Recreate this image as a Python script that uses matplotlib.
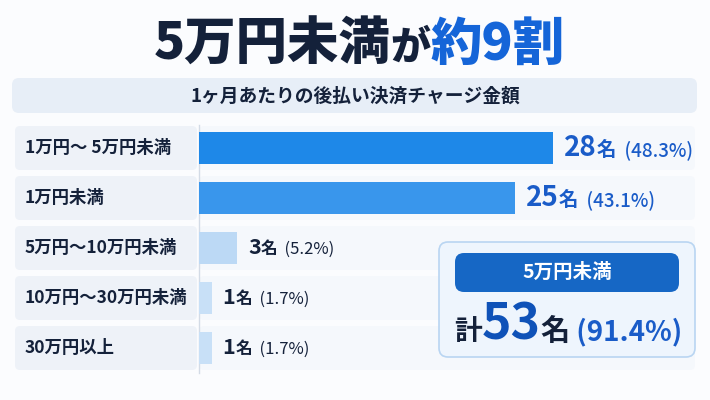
import matplotlib
matplotlib.use("Agg")
import matplotlib.pyplot as plt
from matplotlib.patches import FancyBboxPatch

plt.rcParams['font.family'] = ['Noto Sans CJK JP', 'DejaVu Sans']

# data
categories = ["1万円〜 5万円未満", "1万円未満", "5万円〜10万円未満", "10万円〜30万円未満", "30万円以上"]
counts = [28, 25, 3, 1, 1]
percents = [48.3, 43.1, 5.2, 1.7, 1.7]
bar_colors = ["#1e88e8", "#3996ec", "#bcd9f5", "#c8e0f7", "#c8e0f7"]
title_dark = "5万円未満"
title_mid = "が"
title_blue = "約9割"
subtitle = "1ヶ月あたりの後払い決済チャージ金額"
callout_head = "5万円未満"
callout_total = 53
callout_pct = 91.4

DARK = "#14213a"
BLUE = "#1565d8"
VBLUE = "#1a5cc8"

fig = plt.figure(figsize=(7.1, 4.0), dpi=100)
fig.patch.set_facecolor("#fbfcfe")

# background axes in pixel units
bg = fig.add_axes([0, 0, 1, 1])
bg.set_xlim(0, 710)
bg.set_ylim(400, 0)
bg.axis('off')

# bars axes
ax = fig.add_axes([199 / 710, (400 - 373) / 400, (695 - 199) / 710, 250 / 400])
ax.patch.set_alpha(0)
ax.set_ylim(len(categories) - 0.5, -0.5)
ax.set_xlim(0, counts[0] * 496 / 354)
ax.axis('off')
ax.set_zorder(2)

renderer = fig.canvas.get_renderer()


def runs_width(runs):
    w = 0
    for s, kw in runs:
        t = bg.text(0, 0, s, **kw)
        w += t.get_window_extent(renderer).width
        t.remove()
    return w


def draw_runs(x, y, runs, ha='left', z=5):
    if ha == 'center':
        x -= runs_width(runs) / 2
    for s, kw in runs:
        t = bg.text(x, y, s, va='baseline', ha='left', zorder=z, **kw)
        x += t.get_window_extent(renderer).width
    return x


# title
tsize = 37
draw_runs(359, 60, [
    (title_dark, dict(fontsize=tsize, fontweight='heavy', color=DARK)),
    (title_mid, dict(fontsize=tsize * 0.78, fontweight='heavy', color=DARK)),
    (title_blue, dict(fontsize=tsize, fontweight='heavy', color=BLUE)),
], ha='center')

# subtitle band
bg.add_patch(FancyBboxPatch((12, 78), 685, 35, boxstyle="round,pad=0,rounding_size=7",
                            fc="#e7eef7", ec="none"))
bg.text(355, 96, subtitle, ha='center', va='center', fontsize=13.5,
        fontweight='bold', color=DARK)

# rows
ys = range(len(categories))
to_bg = bg.transData.inverted()
for i, cat in enumerate(categories):
    _, yc = to_bg.transform(ax.transData.transform((0, i)))
    bg.add_patch(FancyBboxPatch((15, yc - 22), 182, 44, boxstyle="round,pad=0,rounding_size=5",
                                fc="#eef2f8", ec="none", zorder=1))
    bg.add_patch(FancyBboxPatch((199, yc - 22), 496, 44, boxstyle="round,pad=0,rounding_size=5",
                                fc="#f5f8fc", ec="none", zorder=1))
    bg.text(25, yc, cat, ha='left', va='center', fontsize=12.5, fontweight='bold',
            color=DARK, zorder=3)

bg.plot([199, 199], [125, 373], color="#d3dbe6", lw=1, zorder=1.5)

bars = ax.barh(list(ys), counts, height=0.64, color=bar_colors, zorder=2)

# value labels
for i, (c, p) in enumerate(zip(counts, percents)):
    xe, yc = to_bg.transform(ax.transData.transform((c, i)))
    if i < 2:
        col = VBLUE
        runs = [(str(c), dict(fontsize=20, fontweight='bold', color=col)),
                ("名", dict(fontsize=14, fontweight='bold', color=col)),
                (f"  ({p}%)", dict(fontsize=13.5, fontweight='medium', color=col))]
        base = yc + 8
    else:
        col = DARK
        runs = [(str(c), dict(fontsize=15.5, fontweight='bold', color=col)),
                ("名", dict(fontsize=12, fontweight='bold', color=col)),
                (f"  ({p}%)", dict(fontsize=12, fontweight='normal', color=col))]
        base = yc + 6
    draw_runs(xe + 11, base, runs)

# callout box
bg.add_patch(FancyBboxPatch((439, 242), 256, 115, boxstyle="round,pad=0,rounding_size=9",
                            fc="#eef5fd", ec="#b9d5f2", lw=1.2, zorder=6))
bg.add_patch(FancyBboxPatch((455, 253), 224, 39, boxstyle="round,pad=0,rounding_size=9",
                            fc="#1667c5", ec="none", zorder=7))
bg.text(567, 272.5, callout_head, ha='center', va='center', fontsize=14,
        fontweight='bold', color='white', zorder=8)
draw_runs(568, 340, [
    ("計", dict(fontsize=20, fontweight='bold', color=DARK)),
    (str(callout_total), dict(fontsize=36, fontweight='bold', color="#0f52b8")),
    ("名", dict(fontsize=21, fontweight='bold', color=DARK)),
    (f" ({callout_pct}%)", dict(fontsize=20, fontweight='bold', color=VBLUE)),
], ha='center', z=8)

fig.savefig("out.png", dpi=100, facecolor=fig.get_facecolor())
